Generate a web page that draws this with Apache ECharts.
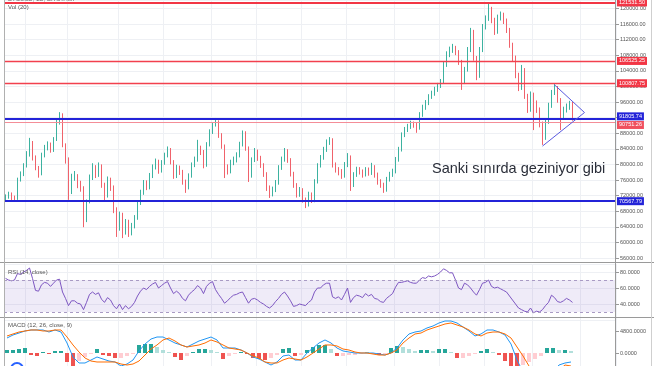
<!DOCTYPE html>
<html><head><meta charset="utf-8">
<script src="https://cdn.jsdelivr.net/npm/echarts/dist/echarts.min.js"></script>
<style>html,body{margin:0;padding:0;background:#fff}#c{width:654px;height:366px}</style>
</head><body><div id="c"></div><script>
// ---------- data (prices in thousands) ----------
const firstOpenK = 71.1;
const closeK = [
71.6,72.2,71.4,71.1,76.0,77.3,79.6,82.4,85.7,81.6,
79.1,77.5,82.4,84.2,85.0,83.7,86.3,90.9,92.9,85.0,
81.1,72.9,76.5,77.0,74.7,74.0,65.7,70.4,76.5,79.1,
77.3,79.6,74.7,71.9,76.0,74.0,68.3,63.7,67.0,62.7,
65.2,62.4,64.2,66.3,70.1,72.7,75.2,74.0,77.0,79.1,
80.6,78.3,80.4,82.2,83.7,80.6,77.0,79.1,78.1,75.5,
74.0,77.0,79.8,81.1,84.2,83.2,79.8,85.0,88.3,90.2,
90.9,87.5,84.7,79.1,78.1,80.4,81.1,82.2,85.0,88.1,
84.2,77.0,81.1,83.2,81.6,79.8,77.5,74.0,72.2,73.4,
75.2,79.1,81.1,83.4,81.1,77.5,74.7,72.2,73.4,70.9,
69.6,72.2,70.6,75.5,79.6,81.6,83.7,85.7,86.3,79.8,
78.6,78.1,77.0,79.8,81.9,74.7,77.3,78.6,78.1,77.3,
78.6,77.8,79.3,77.3,75.5,74.7,73.4,76.0,77.3,78.1,
81.1,83.7,87.5,88.8,89.6,90.4,90.1,89.3,92.7,94.5,
95.7,97.3,98.1,99.1,100.1,101.1,105.5,108.1,109.3,109.8,
108.8,106.3,101.1,104.2,109.3,114.0,107.3,102.7,109.3,115.2,
117.3,119.8,117.0,114.0,117.5,118.3,116.8,114.5,110.6,107.3,
102.9,99.6,104.2,97.5,94.0,97.8,95.5,94.0,90.4,86.8,
90.9,95.0,98.3,99.6,96.5,92.4,94.0,94.7,95.5,91.9
];
const highK = [
72.3,73.0,72.8,72.0,76.6,78.2,80.3,83.4,86.8,86.0,
82.3,79.6,83.0,85.0,85.9,85.6,87.0,91.5,93.4,93.1,
85.4,81.8,77.6,78.3,77.5,75.8,74.4,71.0,77.4,80.3,
79.8,80.5,80.0,75.3,76.9,76.6,74.6,69.0,67.9,67.6,
66.0,65.8,65.0,67.0,70.8,73.5,76.0,75.9,77.8,80.0,
81.5,81.2,81.1,83.0,84.6,84.2,81.1,79.9,79.7,78.6,
76.1,77.7,80.5,82.0,86.3,84.8,83.7,85.7,89.0,90.8,
91.9,91.3,88.0,85.1,80.0,81.2,82.0,83.1,85.8,88.7,
88.5,84.6,81.8,84.2,83.8,82.2,80.3,78.0,74.6,74.3,
76.0,79.8,82.0,84.2,83.9,81.6,78.1,75.2,74.2,73.9,
71.5,73.0,72.8,76.2,80.3,82.4,84.5,86.4,87.0,86.7,
80.5,79.3,78.8,80.6,82.9,82.3,78.0,79.4,79.3,78.7,
79.3,79.2,80.4,79.8,77.9,76.2,75.3,76.8,78.1,78.9,
81.9,84.5,88.2,89.6,90.4,91.2,91.0,90.6,93.4,95.3,
96.5,98.0,98.9,99.9,100.9,101.9,106.3,109.0,110.2,110.9,
110.4,109.3,106.8,105.0,110.1,115.0,114.5,107.8,110.1,116.0,
118.2,121.5315,120.4,117.6,118.4,119.2,118.9,117.4,115.0,111.2,
107.9,103.5,105.5,104.7,98.1,98.7,98.4,96.4,94.6,91.0,
91.7,95.8,99.1,100.6,100.1,97.0,94.8,95.6,96.3,96.0
];
const lowK = [
70.6,71.2,70.8,70.4,70.9,75.6,77.0,79.2,82.0,81.0,
78.5,76.6,77.2,81.8,83.6,83.0,83.2,86.0,90.2,84.4,
80.2,70.9,72.4,75.8,73.9,73.0,63.9,65.2,70.0,76.0,
76.5,76.8,74.0,70.8,71.5,73.2,67.5,61.4,63.0,61.1,
62.0,61.4,61.8,63.6,65.8,69.6,72.2,73.4,73.6,76.5,
78.7,77.6,77.9,79.9,81.8,80.0,76.3,76.5,77.3,74.8,
72.7,73.6,76.6,79.3,80.7,82.4,79.0,79.4,84.6,87.8,
89.7,86.8,84.0,76.5,77.4,77.7,79.8,80.5,81.8,84.6,
83.5,75.5,76.6,80.6,80.9,79.1,76.8,73.2,71.4,71.8,
72.9,74.8,78.6,80.7,80.4,76.9,74.0,71.5,71.7,70.2,
68.8,69.2,70.1,70.3,75.1,79.2,81.2,83.2,85.0,79.2,
77.9,77.2,76.3,76.6,79.3,73.2,74.2,76.8,77.4,76.6,
76.9,77.1,77.3,76.6,74.8,74.0,72.7,73.0,75.6,76.8,
77.7,80.7,83.3,87.0,88.3,89.1,89.4,88.1,88.9,92.2,
94.0,95.2,96.8,97.6,98.6,99.6,100.7,105.0,107.5,108.6,
108.0,105.5,99.1,100.6,103.8,108.8,106.6,101.6,102.2,108.8,
114.6,116.8,116.2,113.2,113.5,116.9,116.0,113.7,109.9,106.5,
102.1,98.8,99.1,96.8,93.2,93.5,88.8,93.2,89.5,85.0,
86.3,90.4,94.5,97.8,95.8,88.8,91.7,93.3,94.0,91.2
];
const rsi = [
72,70,69,70,78,77,80,82,85,72,
57,56,64,67,66,62,66,70,71,55,
47,38,44,44,41,40,33,42,52,55,
52,54,46,42,48,45,38,34,40,33,
38,34,37,42,50,56,60,58,62,65,
67,60,63,66,68,60,53,56,53,47,
44,51,55,58,63,60,53,62,66,68,
58,52,47,41,44,48,51,52,54,55,
48,41,46,47,45,42,40,37,35,38,
43,47,52,55,50,44,37,38,40,39,
38,42,45,55,60,60,64,66,66,49,
47,49,45,52,60,42,48,51,50,48,
53,50,52,47,46,43,42,47,50,53,
61,67,67,68,69,67,66,66,70,73,
72,75,74,75,77,80,84,82,79,79,
70,60,58,66,64,60,55,51,58,66,
67,70,62,60,61,59,57,55,50,45,
40,35,33,31,30,35,29,31,30,33,
38,42,51,48,43,42,44,47,45,42
];
// MACD pane, one value per two candles
const macdLine = [
3270,3930,4360,4800,5020,5020,5020,4580,5020,4580,
2180,-870,-2180,-2180,-1530,-870,-1310,-1750,-1960,-2840,
-2400,-1530,440,1960,3050,3490,3490,2840,2180,1750,
1310,1960,2620,3050,3490,2840,1090,1090,1090,650,
0,-870,-1310,-1960,-2620,-1960,-650,-440,-1530,-1530,
0,1090,2180,2840,2180,1090,440,220,0,0,
0,0,-220,-440,0,1090,2840,4150,4580,4800,
5460,5890,6550,6980,6980,6550,5670,4800,3710,4150,
5020,5020,4580,3930,1960,-1530,-4150,-5890,-6980,-6980,
-5890,-4150,-2620,-2180,-1960
];
const signalLine = [
3710,4150,4580,4800,5020,5020,4800,4800,5020,5020,
3490,1750,220,-1090,-1750,-1960,-1960,-1960,-1960,-2400,
-2620,-2400,-1750,-440,870,1750,2840,3270,2620,1750,
1310,1530,1750,2180,2840,2400,1750,1090,870,650,
0,-650,-1090,-1960,-2180,-2180,-1530,-1090,-1310,-1530,
-870,0,870,1750,1750,1530,870,650,220,0,
0,-220,-440,-440,0,650,2180,3270,4150,4360,
5020,5460,5890,6330,6550,6110,5670,5020,4150,3710,
4360,4580,4580,4150,3270,1310,-650,-2840,-4580,-5460,
-5460,-4800,-3710,-2620,-2840
];
const macdHist = [
650,650,870,1090,-440,-650,220,-220,440,440,
-1960,-2840,-1750,-870,-220,870,-440,-650,-1090,-1090,
-650,-220,1750,1960,1960,1310,650,220,-870,-1530,
-650,220,870,870,650,220,-1310,-650,-220,220,
-220,-1090,-1310,-1530,-1090,-440,870,1090,-650,-440,
650,1310,1750,1750,870,-650,-650,-440,-440,-110,
110,-110,-440,-220,1090,1530,1310,870,440,650,
650,440,870,870,220,-1090,-1090,-650,-220,440,
870,220,-440,-1750,-2840,-3490,-2620,-1960,-1310,-650,
1090,1090,650,650,440
];
const levelValues = [121531.50, 106525.25, 100807.75, 91805.74, 90751.26, 70567.79];
const priceTicks = {min: 56000, max: 122154, step: 4000};
const rsiTicks = {min: 20, max: 90, step: 20};
const macdRange = {min: -2836, max: 7636};
const macdLabelValues = [0, 4800];
const triangleVertices = [['183', 100400], ['193', 93300], ['179', 84700]];
const monthLineIdx = [7,21,38,53,69,84,99,114,130,145,160,176,192];
const TOTAL_SLOTS = 204;
const categories = Array.from({length: TOTAL_SLOTS}, (_, i) => String(i));
const macdCategories = Array.from({length: TOTAL_SLOTS / 2}, (_, i) => String(i));

// ---------- styles ----------
const UP = '#3db2a0', DOWN = '#f0626b';
const RED = '#f23645', BLUE = '#2323d8';
const levelStyles = [
  {c: RED, w: 2, bg: RED, off: 0},
  {c: '#f2404e', w: 1.4, bg: RED, off: 0},
  {c: '#f2404e', w: 1.4, bg: RED, off: 0},
  {c: BLUE, w: 2, bg: BLUE, off: -2},
  {c: '#f48d97', w: 1, bg: '#f0505e', off: 2.5},
  {c: BLUE, w: 2, bg: BLUE, off: 0}
];
const FONT = '"Liberation Sans", Arial, sans-serif';
const gridLineSet = new Set(monthLineIdx);
const splitColor = '#eef0f4';

const candles = closeK.map((c, i) => {
  const o = i === 0 ? firstOpenK : closeK[i - 1];
  return [Math.round(o * 1000), Math.round(c * 1000), Math.round(lowK[i] * 1000), Math.round(highK[i] * 1000)];
});

function catAxis(gridIndex, data, showSplit) {
  return {
    type: 'category', gridIndex, data, boundaryGap: true,
    axisLine: {show: false}, axisTick: {show: false}, axisLabel: {show: false},
    splitLine: {show: showSplit, interval: (idx) => gridLineSet.has(idx), lineStyle: {color: splitColor, width: 1}}
  };
}
const labelBase = {show: true, fontSize: 5.5, color: '#555', margin: 4, fontFamily: FONT};

const levelLines = levelValues.map((v, k) => ({
  yAxis: v,
  lineStyle: {color: levelStyles[k].c, width: levelStyles[k].w, type: 'solid', opacity: 1},
  label: {show: true, position: 'end', distance: 1, offset: [0, levelStyles[k].off], formatter: () => v.toFixed(2), color: '#fff',
          backgroundColor: levelStyles[k].bg, fontSize: 5.5, fontFamily: FONT, padding: [1, 2, 1, 2]}
}));
const triStyle = {color: '#5a5ae0', width: 1, type: 'solid'};
const triLines = [
  [{coord: triangleVertices[0], lineStyle: triStyle, label: {show: false}}, {coord: triangleVertices[1]}],
  [{coord: triangleVertices[2], lineStyle: triStyle, label: {show: false}}, {coord: triangleVertices[1]}]
];

const option = {
  animation: false,
  backgroundColor: '#fff',
  grid: [
    {left: 4, width: 612, top: 0, height: 258},
    {left: 4, width: 612, top: 264, height: 56},
    {left: 4, width: 612, top: 318, height: 48}
  ],
  xAxis: [
    catAxis(0, categories, true),
    catAxis(1, categories, true),
    catAxis(2, categories, true),
    Object.assign(catAxis(2, macdCategories, false), {position: 'top'})
  ],
  yAxis: [
    {type: 'value', gridIndex: 0, position: 'right', min: priceTicks.min, max: priceTicks.max, interval: priceTicks.step,
     axisLine: {show: false}, axisTick: {show: true, length: 3, lineStyle: {color: '#999'}},
     axisLabel: Object.assign({}, labelBase, {formatter: v => v.toFixed(2), showMinLabel: true, showMaxLabel: false}),
     splitLine: {show: true, lineStyle: {color: splitColor, width: 1}}},
    {type: 'value', gridIndex: 1, position: 'right', min: rsiTicks.min, max: rsiTicks.max, interval: rsiTicks.step,
     axisLine: {show: false}, axisTick: {show: true, length: 3, lineStyle: {color: '#999'}},
     axisLabel: Object.assign({}, labelBase, {formatter: v => v.toFixed(4), showMinLabel: false, showMaxLabel: false}),
     splitLine: {show: true, lineStyle: {color: splitColor, width: 1}}},
    {type: 'value', gridIndex: 2, position: 'right', min: macdRange.min, max: macdRange.max,
     axisLine: {show: false},
     axisTick: {show: true, length: 3, lineStyle: {color: '#999'}, customValues: macdLabelValues},
     axisLabel: Object.assign({}, labelBase, {formatter: v => v.toFixed(4), customValues: macdLabelValues}),
     splitLine: {show: false}}
  ],
  series: [
    {
      type: 'candlestick', xAxisIndex: 0, yAxisIndex: 0, data: candles, barWidth: 1.2,
      itemStyle: {color: UP, color0: DOWN, borderColor: UP, borderColor0: DOWN, borderWidth: 1},
      markLine: {silent: true, symbol: ['none', 'none'], animation: false, precision: 2,
                 data: levelLines.concat(triLines)}
    },
    {
      type: 'line', xAxisIndex: 1, yAxisIndex: 1, data: rsi, symbol: 'none',
      lineStyle: {color: '#7e57c2', width: 1},
      markArea: {silent: true, itemStyle: {color: 'rgba(126,87,194,0.12)'}, data: [[{yAxis: 30}, {yAxis: 70}]]},
      markLine: {silent: true, symbol: ['none', 'none'], label: {show: false},
                 lineStyle: {color: '#a99bc4', type: [3, 3], width: 1}, data: [{yAxis: 70}, {yAxis: 30}]}
    },
    {
      type: 'bar', xAxisIndex: 3, yAxisIndex: 2, data: macdHist, barWidth: 4,
      itemStyle: {color: (p) => {
        const v = p.value, prev = p.dataIndex > 0 ? macdHist[p.dataIndex - 1] : 0;
        if (v >= 0) return v >= prev ? '#26a69a' : '#b2dfdb';
        return v < prev ? '#ef5350' : '#ffcdd2';
      }}
    },
    {type: 'line', xAxisIndex: 3, yAxisIndex: 2, data: macdLine, symbol: 'none', lineStyle: {color: '#2196f3', width: 1}},
    {type: 'line', xAxisIndex: 3, yAxisIndex: 2, data: signalLine, symbol: 'none', lineStyle: {color: '#ff6d00', width: 1}}
  ],
  graphic: [
    {type: 'line', shape: {x1: 0, y1: 262.5, x2: 654, y2: 262.5}, style: {stroke: '#9a9a9a', lineWidth: 1}, z: 10},
    {type: 'line', shape: {x1: 0, y1: 317.5, x2: 654, y2: 317.5}, style: {stroke: '#9a9a9a', lineWidth: 1}, z: 10},
    {type: 'line', shape: {x1: 615.5, y1: 0, x2: 615.5, y2: 366}, style: {stroke: '#9a9a9a', lineWidth: 1}, z: 10},
    {type: 'line', shape: {x1: 4.5, y1: 0, x2: 4.5, y2: 366}, style: {stroke: '#b0b0b0', lineWidth: 1}, z: 10},
    {type: 'line', shape: {x1: 651.5, y1: 0, x2: 651.5, y2: 366}, style: {stroke: '#cfcfcf', lineWidth: 1}, z: 10},
    {type: 'circle', shape: {cx: 17, cy: 369, r: 6}, style: {fill: '#fff', stroke: '#2962ff', lineWidth: 2}, z: 10},
    {type: 'text', left: 8, top: -4, z: 10, style: {text: 'BTCUSD, 1D, BITSTAMP', fontSize: 6, fill: '#666', fontFamily: FONT}},
    {type: 'text', left: 8, top: 4, z: 10, style: {text: 'Vol (20)', fontSize: 6, fill: '#555', fontFamily: FONT}},
    {type: 'text', left: 8, top: 269, z: 10, style: {text: 'RSI (14, close)', fontSize: 6, fill: '#555', fontFamily: FONT}},
    {type: 'text', left: 8, top: 322, z: 10, style: {text: 'MACD (12, 26, close, 9)', fontSize: 6, fill: '#555', fontFamily: FONT}},
    {type: 'text', left: 432, top: 161, z: 10, style: {text: 'Sanki sınırda geziniyor gibi', fontSize: 14.5, fill: '#2a2e39', fontFamily: FONT}}
  ]
};
const chart = echarts.init(document.getElementById('c'));
chart.setOption(option);
</script></body></html>
